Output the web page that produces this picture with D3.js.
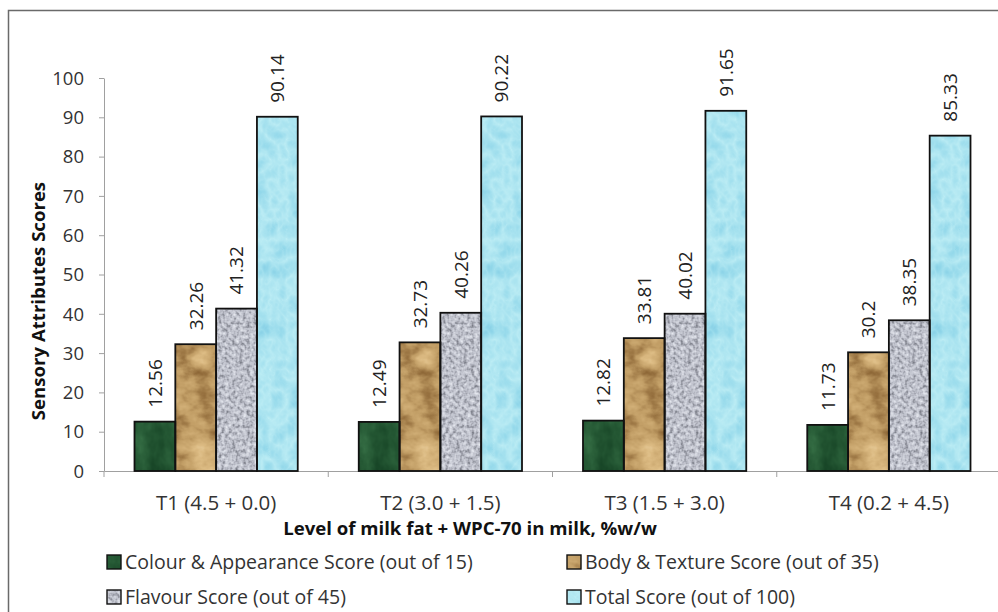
<!DOCTYPE html>
<html>
<head>
<meta charset="utf-8">
<script src="https://cdn.jsdelivr.net/npm/d3@7/dist/d3.min.js"></script>
<style>
  html, body { margin: 0; padding: 0; background: #fff; }
  svg { display: block; font-family: "Open Sans", Lato, sans-serif; }
</style>
</head>
<body>
<svg id="chart" width="998" height="612"></svg>
<script>
// Treatments (milk fat + WPC-70 levels)
const categories = ["T1 (4.5 + 0.0)", "T2 (3.0 + 1.5)", "T3 (1.5 + 3.0)", "T4 (0.2 + 4.5)"];
// Sensory attribute series
const seriesNames = [
  "Colour & Appearance Score (out of 15)",
  "Body & Texture Score (out of 35)",
  "Flavour Score (out of 45)",
  "Total Score (out of 100)"
];
const colourAppearance = [12.56, 12.49, 12.82, 11.73];
const bodyTexture      = [32.26, 32.73, 33.81, 30.2];
const flavour          = [41.32, 40.26, 40.02, 38.35];
const totalScore       = [90.14, 90.22, 91.65, 85.33];
const yTicks = [0, 10, 20, 30, 40, 50, 60, 70, 80, 90, 100];

const seriesValues = [colourAppearance, bodyTexture, flavour, totalScore];
const labelText = v => String(v);
const FONT = "'Open Sans', Lato, sans-serif";

const svg = d3.select("#chart");

// Textured fills built from SVG turbulence filters
const textures = [
  { id: "tex-green", base: "#1f4f2c", freq: "0.045 0.03", oct: 4, type: "fractalNoise",
    r: "0.04 0.09 0.14 0.20 0.36", g: "0.18 0.27 0.34 0.42 0.62", b: "0.09 0.15 0.20 0.26 0.44" },
  { id: "tex-tan", base: "#c9a46f", freq: "0.035 0.05", oct: 4, type: "fractalNoise",
    r: "0.40 0.56 0.76 0.86 0.94", g: "0.28 0.41 0.62 0.73 0.84", b: "0.14 0.22 0.40 0.51 0.66" },
  { id: "tex-grey", base: "#b5b8be", freq: "0.28", oct: 2, type: "fractalNoise",
    r: "0.35 0.55 0.75 0.86 0.95", g: "0.36 0.56 0.76 0.87 0.96", b: "0.40 0.60 0.80 0.90 0.98" },
  { id: "tex-blue", base: "#a8dde8", freq: "0.06 0.05", oct: 3, type: "turbulence",
    r: "0.74 0.66 0.58 0.50", g: "0.93 0.89 0.85 0.79", b: "0.96 0.94 0.92 0.89" }
];

const defs = svg.append("defs");
textures.forEach(t => {
  const f = defs.append("filter").attr("id", t.id)
    .attr("x", 0).attr("y", 0).attr("width", 1).attr("height", 1)
    .attr("color-interpolation-filters", "sRGB");
  f.append("feTurbulence").attr("type", t.type).attr("baseFrequency", t.freq)
    .attr("numOctaves", t.oct).attr("seed", 3).attr("result", "noise");
  f.append("feColorMatrix").attr("in", "noise").attr("type", "matrix")
    .attr("values", "1 0 0 0 0  1 0 0 0 0  1 0 0 0 0  0 0 0 0 1").attr("result", "grey");
  const ct = f.append("feComponentTransfer").attr("in", "grey").attr("result", "tinted");
  ct.append("feFuncR").attr("type", "table").attr("tableValues", t.r);
  ct.append("feFuncG").attr("type", "table").attr("tableValues", t.g);
  ct.append("feFuncB").attr("type", "table").attr("tableValues", t.b);
  f.append("feComposite").attr("in", "tinted").attr("in2", "SourceGraphic").attr("operator", "in");
});

// Outer chart frame
svg.append("rect").attr("x", 8.5).attr("y", 10.5).attr("width", 1100).attr("height", 700)
  .attr("fill", "none").attr("stroke", "#6a6a6a").attr("stroke-width", 1.5);

const x0 = d3.scaleBand().domain(categories).range([104, 1001]).paddingInner(0).paddingOuter(0);
const groupGap = 30.5;
const x1 = d3.scaleBand().domain(seriesNames).range([groupGap, x0.bandwidth() - groupGap]).padding(0);
const y = d3.scaleLinear().domain([0, 100]).range([471, 78]);

// Y axis
const yAxis = svg.append("g").attr("transform", "translate(104,0)")
  .call(d3.axisLeft(y).tickValues(yTicks).tickSize(5).tickSizeOuter(0));
yAxis.select(".domain").attr("stroke", "#a0a0a0");
yAxis.selectAll(".tick line").attr("stroke", "#a0a0a0");
yAxis.selectAll(".tick text").attr("fill", "#333").attr("font-size", 18.5)
  .attr("font-family", FONT).attr("x", -20).attr("dy", "0.34em");

// X axis: baseline, boundary ticks and category labels
const xAxis = svg.append("g").attr("transform", "translate(0,471)")
  .call(d3.axisBottom(x0).tickSize(0).tickSizeOuter(0));
xAxis.select(".domain").attr("stroke", "#a0a0a0");
xAxis.selectAll(".tick text").attr("fill", "#333").attr("font-size", 20.5)
  .attr("font-family", FONT).attr("y", 39).attr("dy", 0);
const boundaries = categories.map(c => x0(c)).concat([x0.range()[1]]);
svg.append("g").selectAll("line").data(boundaries).join("line")
  .attr("x1", d => d).attr("x2", d => d).attr("y1", 471).attr("y2", 477)
  .attr("stroke", "#a0a0a0");

// Bars
const groups = svg.append("g").selectAll("g").data(categories).join("g")
  .attr("transform", c => `translate(${x0(c)},0)`);

const barData = (c, ci) => seriesNames.map((s, si) => ({ s, si, v: seriesValues[si][ci] }));

groups.each(function(c, ci) {
  const g = d3.select(this);
  const bars = barData(c, ci);
  g.selectAll("rect.fill").data(bars).join("rect").attr("class", "fill")
    .attr("x", d => x1(d.s)).attr("width", x1.bandwidth())
    .attr("y", d => y(d.v)).attr("height", d => y(0) - y(d.v))
    .attr("fill", d => textures[d.si].base)
    .attr("filter", d => `url(#${textures[d.si].id})`);
  g.selectAll("rect.edge").data(bars).join("rect").attr("class", "edge")
    .attr("x", d => x1(d.s)).attr("width", x1.bandwidth())
    .attr("y", d => y(d.v)).attr("height", d => y(0) - y(d.v))
    .attr("fill", "none").attr("stroke", "#111").attr("stroke-width", 1.8);
  g.selectAll("text.val").data(bars).join("text").attr("class", "val")
    .attr("transform", d => `translate(${x1(d.s) + x1.bandwidth() / 2},${y(d.v) - 14}) rotate(-90)`)
    .attr("dy", "0.36em").attr("text-anchor", "start")
    .attr("font-size", 19).attr("fill", "#222")
    .text(d => labelText(d.v));
});

// Axis titles
svg.append("text").attr("x", 470).attr("y", 535).attr("text-anchor", "middle")
  .attr("font-size", 18.6).attr("font-weight", "bold").attr("fill", "#111")
  .text("Level of milk fat + WPC-70 in milk, %w/w");
svg.append("text").attr("transform", "translate(38,301) rotate(-90)")
  .attr("dy", "0.36em").attr("text-anchor", "middle")
  .attr("font-size", 18.6).attr("font-weight", "bold").attr("fill", "#111")
  .text("Sensory Attributes Scores");

// Legend
const legendPos = [[107, 562], [567, 562], [107, 597], [567, 597]];
const legend = svg.append("g").selectAll("g").data(seriesNames).join("g")
  .attr("transform", (d, i) => `translate(${legendPos[i][0]},${legendPos[i][1]})`);
legend.append("rect").attr("x", 0).attr("y", -7).attr("width", 14).attr("height", 14)
  .attr("fill", (d, i) => textures[i].base)
  .attr("filter", (d, i) => `url(#${textures[i].id})`);
legend.append("rect").attr("x", 0).attr("y", -7).attr("width", 14).attr("height", 14)
  .attr("fill", "none").attr("stroke", "#111").attr("stroke-width", 1.4);
legend.append("text").attr("x", 18).attr("dy", "0.36em").attr("font-size", 19.5)
  .attr("fill", "#333").text(d => d);
</script>
</body>
</html>
